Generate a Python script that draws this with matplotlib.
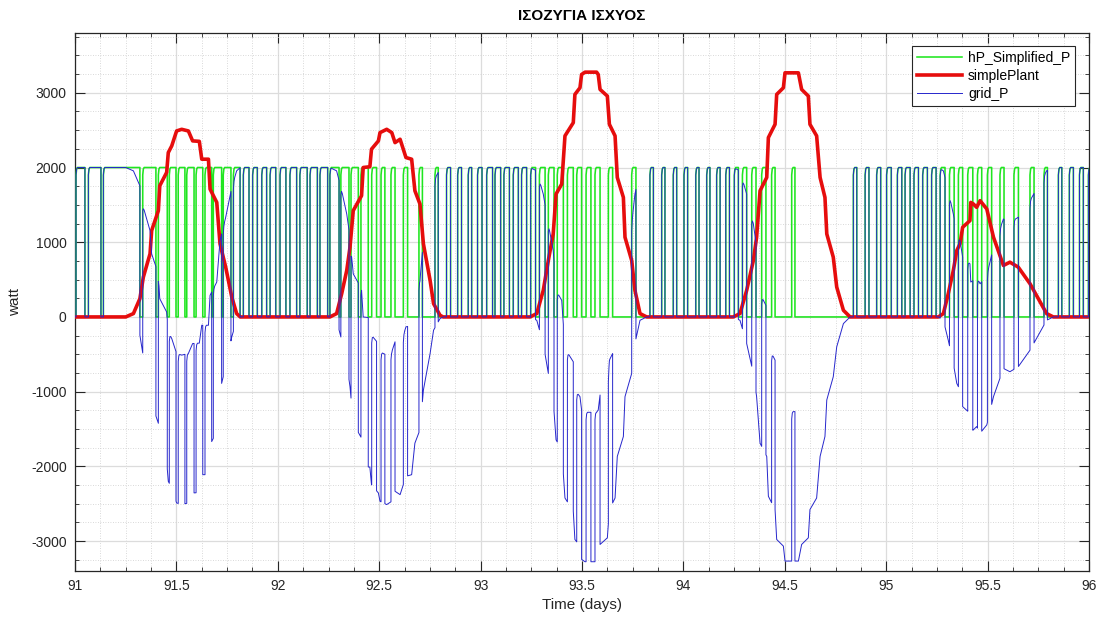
import numpy as np
import matplotlib
matplotlib.use("Agg")
import matplotlib.pyplot as plt
from matplotlib.ticker import MultipleLocator, FuncFormatter

plt.rcParams['font.family'] = ['Liberation Sans', 'DejaVu Sans']
plt.rcParams['axes.unicode_minus'] = False

# Heat pump compressor switching instants (days) and rated electric power (W)
hp_on = [91.005, 91.066, 91.140, 91.334, 91.411, 91.465, 91.509, 91.551, 91.597, 91.641,
         91.682, 91.731, 91.781, 91.830, 91.876, 91.921, 91.962,
         92.011, 92.060, 92.109, 92.159, 92.208, 92.257, 92.311, 92.361, 92.410, 92.463,
         92.509, 92.558, 92.619, 92.696, 92.775, 92.832, 92.887, 92.939, 92.985,
         93.030, 93.071, 93.115, 93.161, 93.202, 93.247, 93.290, 93.334, 93.378, 93.428,
         93.474, 93.520, 93.564, 93.630, 93.745, 93.835, 93.893, 93.950,
         94.003, 94.061, 94.115, 94.164, 94.209, 94.251, 94.291, 94.337, 94.386, 94.435,
         94.534, 94.838, 94.896, 94.953,
         95.002, 95.055, 95.093, 95.137, 95.180, 95.224, 95.266, 95.312, 95.356, 95.402,
         95.450, 95.499, 95.561, 95.630, 95.709, 95.778, 95.849, 95.903, 95.953, 95.997]
hp_off = [91.049, 91.128, 91.320, 91.399, 91.455, 91.498, 91.542, 91.587, 91.630, 91.674,
          91.723, 91.769, 91.814, 91.858, 91.899, 91.945, 91.990,
          92.040, 92.093, 92.145, 92.195, 92.246, 92.302, 92.351, 92.397, 92.446, 92.487,
          92.528, 92.578, 92.640, 92.713, 92.791, 92.852, 92.906, 92.956, 93.007,
          93.059, 93.099, 93.142, 93.186, 93.227, 93.271, 93.318, 93.362, 93.408, 93.457,
          93.498, 93.544, 93.589, 93.651, 93.766, 93.852, 93.909, 93.967,
          94.021, 94.077, 94.131, 94.181, 94.227, 94.271, 94.312, 94.358, 94.407, 94.452,
          94.550, 94.855, 94.915, 94.973,
          95.025, 95.077, 95.118, 95.159, 95.203, 95.246, 95.290, 95.335, 95.377, 95.427,
          95.471, 95.520, 95.581, 95.652, 95.729, 95.795, 95.866, 95.923, 95.972, 96.020]
hp_rated = 2000.0

# PV plant output (W)
plant_t = [91.000, 91.250, 91.288, 91.320, 91.337, 91.370, 91.378, 91.411, 91.418, 91.452,
           91.460, 91.477, 91.501, 91.526, 91.559, 91.580, 91.613, 91.625, 91.658, 91.666,
           91.699, 91.715, 91.743, 91.773, 91.797, 91.815,
           92.257, 92.290, 92.315, 92.340, 92.356, 92.372, 92.413, 92.421, 92.454, 92.462,
           92.496, 92.504, 92.537, 92.562, 92.578, 92.603, 92.632, 92.660, 92.676, 92.701,
           92.718, 92.751, 92.768, 92.800, 92.815,
           93.244, 93.277, 93.309, 93.334, 93.358, 93.372, 93.400, 93.416, 93.457, 93.465,
           93.490, 93.498, 93.515, 93.572, 93.580, 93.589, 93.625, 93.635, 93.663, 93.674,
           93.704, 93.712, 93.745, 93.761, 93.786, 93.819,
           94.246, 94.279, 94.312, 94.345, 94.361, 94.378, 94.411, 94.419, 94.452, 94.460,
           94.493, 94.501, 94.567, 94.583, 94.616, 94.624, 94.657, 94.674, 94.698, 94.707,
           94.739, 94.756, 94.789, 94.822,
           95.257, 95.282, 95.306, 95.331, 95.348, 95.364, 95.377, 95.413, 95.417, 95.430,
           95.446, 95.463, 95.496, 95.529, 95.578, 95.610, 95.651, 95.709, 95.791, 95.824,
           96.000]
plant_w = [0, 0, 45, 245, 533, 845, 1156, 1423, 1756, 1934,
           2200, 2289, 2489, 2511, 2489, 2356, 2350, 2111, 2111, 1711,
           1533, 978, 667, 267, 45, 0,
           0, 45, 311, 623, 933, 1423, 1623, 2000, 2010, 2245,
           2356, 2467, 2511, 2467, 2333, 2378, 2133, 2111, 1689, 1511,
           978, 489, 178, 22, 0,
           0, 45, 356, 756, 1111, 1645, 1778, 2423, 2600, 2978,
           3067, 3245, 3276, 3276, 3245, 3045, 2956, 2578, 2423, 1867,
           1600, 1067, 756, 356, 45, 0,
           0, 45, 356, 756, 1067, 1689, 1867, 2400, 2578, 2978,
           3067, 3267, 3267, 3045, 2956, 2578, 2423, 1867, 1600, 1111,
           800, 400, 89, 0,
           0, 45, 311, 622, 889, 978, 1200, 1289, 1533, 1511,
           1467, 1556, 1445, 1067, 689, 733, 667, 445, 45, 0,
           0]


def compressor_trace(on, off, level, t0=91.0, t1=96.0):
    """Electric power of the on/off heat pump with a short start-up transient."""
    t, v = [t0], [0.0]
    for a, b in zip(on, off):
        t += [a, a, a + 0.003, a + 0.007, b, b]
        v += [0.0, 0.95 * level, 0.99 * level, level, level, 0.0]
    t.append(max(t1, t[-1]))
    v.append(0.0)
    return np.array(t), np.array(v)


hp_t, hp_v = compressor_trace(hp_on, hp_off, hp_rated)
pl_t = np.array(plant_t, dtype=float)
pl_w = np.array(plant_w, dtype=float)

# Grid exchange = heat pump demand - PV production, evaluated at every breakpoint
g_t = np.concatenate([hp_t, pl_t])
g_v = np.concatenate([hp_v - np.interp(hp_t, pl_t, pl_w),
                      np.interp(pl_t, hp_t, hp_v) - pl_w])
order = np.argsort(g_t, kind='stable')
g_t, g_v = g_t[order], g_v[order]

W, H = 1100, 621
fig = plt.figure(figsize=(W / 100, H / 100), dpi=100)
ax = fig.add_axes([75 / W, 1 - 571 / H, 1014 / W, 538 / H])

ax.plot(hp_t, hp_v, color=(0.12, 0.9, 0.12), lw=1.15, label='hP_Simplified_P', zorder=3)
ax.plot(pl_t, pl_w, color=(0.9, 0.05, 0.05), lw=2.6, label='simplePlant', zorder=4,
        solid_joinstyle='round')
ax.plot(g_t, g_v, color=(0.15, 0.15, 0.8), lw=0.7, label='grid_P', zorder=5)

ax.set_xlim(91, 96)
ax.set_ylim(-3400, 3800)
ax.xaxis.set_major_locator(MultipleLocator(0.5))
ax.xaxis.set_minor_locator(MultipleLocator(0.125))
ax.yaxis.set_minor_locator(MultipleLocator(250))
ax.xaxis.set_major_formatter(FuncFormatter(lambda x, p: f'{x:g}'))
ax.set_yticks([-3000, -2000, -1000, 0, 1000, 2000, 3000])
ax.yaxis.set_major_formatter(FuncFormatter(lambda y, p: f'{int(round(y))}'))

ax.grid(True, which='major', color='#dcdcdc', lw=0.9, ls='-', zorder=0)
ax.grid(True, which='minor', color='#cdcdcd', lw=0.6, ls=(0, (1, 2)), zorder=0)
ax.set_axisbelow(True)

ax.tick_params(which='both', direction='in', top=True, right=True, colors='#262626',
               labelcolor='#262626', labelsize=10)
ax.tick_params(which='major', length=7, width=0.8, pad=6)
ax.tick_params(which='minor', length=3, width=0.6)
for s in ax.spines.values():
    s.set_color('#262626')
    s.set_linewidth(0.9)

ax.set_title('ΙΣΟΖΥΓΙΑ ΙΣΧΥΟΣ', fontsize=11, fontweight='bold', pad=9, color='black')
ax.set_xlabel('Time (days)', fontsize=11, labelpad=3, color='#262626')
ax.set_ylabel('watt', fontsize=11, color='#262626')
ax.yaxis.set_label_coords(-0.052, 0.5)

leg = ax.legend(loc='upper right', bbox_to_anchor=(1 - 14 / 1014, 1 - 13 / 538),
                borderaxespad=0, fontsize=10, handlelength=3.3, handletextpad=0.4,
                labelspacing=0.28, borderpad=0.35, fancybox=False, framealpha=1,
                edgecolor='#262626')
leg.get_frame().set_linewidth(0.8)
leg.set_zorder(10)

fig.savefig('out.png', dpi=100, facecolor='white')
